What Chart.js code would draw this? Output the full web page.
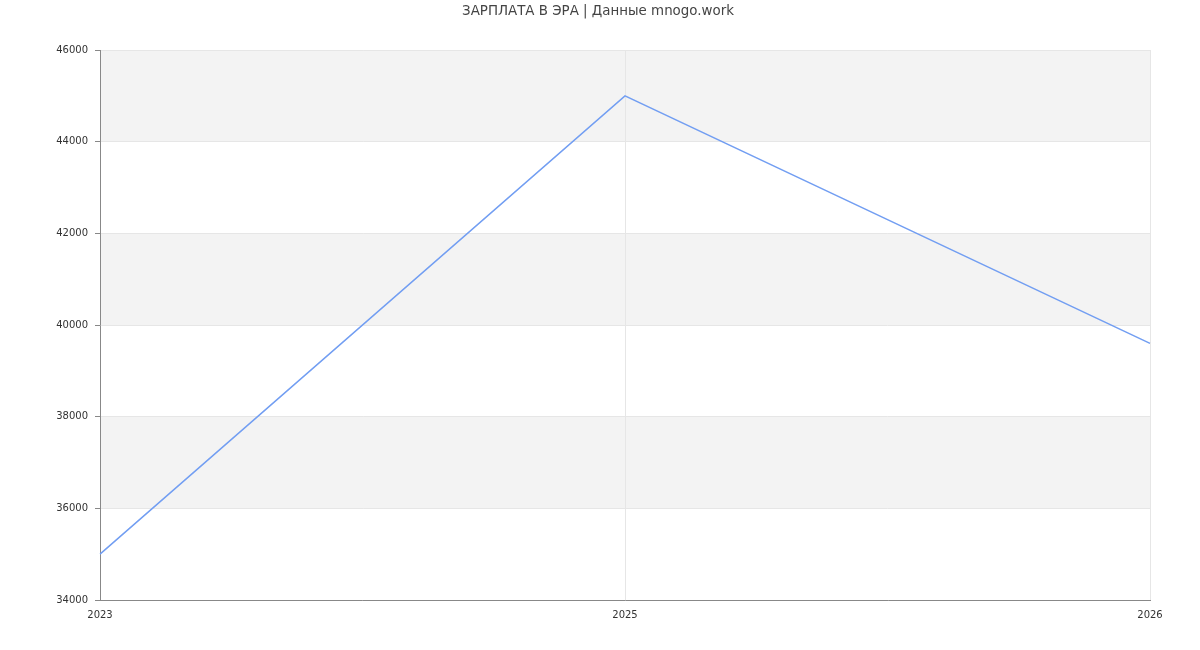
<!DOCTYPE html>
<html>
<head>
<meta charset="utf-8">
<script src="https://cdn.jsdelivr.net/npm/chart.js@4"></script>
<style>
  html, body { margin: 0; padding: 0; background: #fff; }
  #wrap { width: 1200px; height: 650px; }
</style>
</head>
<body>
<div id="wrap"><canvas id="salaryChart" width="1200" height="650"></canvas></div>
<script>
const titleText = "ЗАРПЛАТА В ЭРА | Данные mnogo.work";
const years = ["2023", "2025", "2026"];
const salary = [35000, 45000, 39600];
const yMin = 34000;
const yMax = 46000;
const yStep = 2000;

// grey bands between every other pair of y gridlines
const bandsPlugin = {
  id: 'bands',
  beforeDraw(chart) {
    const { ctx, chartArea, scales } = chart;
    const y = scales.y;
    const ticks = y.ticks;
    ctx.save();
    ctx.fillStyle = '#f3f3f3';
    for (let i = 1; i < ticks.length - 1; i += 2) {
      const top = y.getPixelForValue(ticks[i + 1].value);
      const bottom = y.getPixelForValue(ticks[i].value);
      ctx.fillRect(chartArea.left, top, chartArea.right - chartArea.left, bottom - top);
    }
    ctx.restore();
  }
};

// title drawn at the top, outside the padded plot area
const titlePlugin = {
  id: 'topTitle',
  afterDraw(chart) {
    const ctx = chart.ctx;
    ctx.save();
    ctx.font = '13.4px "DejaVu Sans"';
    ctx.fillStyle = '#444';
    ctx.textAlign = 'center';
    ctx.textBaseline = 'middle';
    ctx.fillText(titleText, 598, 12);
    ctx.restore();
  }
};

Chart.defaults.font.family = '"DejaVu Sans", sans-serif';
Chart.defaults.font.size = 10;
Chart.defaults.color = '#333';

new Chart(document.getElementById('salaryChart'), {
  type: 'line',
  data: {
    labels: years,
    datasets: [{
      data: salary,
      borderColor: '#729ef2',
      borderWidth: 1.5,
      pointRadius: 0,
      tension: 0,
      fill: false
    }]
  },
  options: {
    responsive: false,
    animation: false,
    layout: { padding: { top: 50, right: 50, left: 0, bottom: 0 } },
    plugins: {
      legend: { display: false },
      tooltip: { enabled: false }
    },
    scales: {
      x: {
        offset: false,
        afterFit(scale) { scale.height = 50; },
        grid: {
          color: '#e6e6e6',
          drawTicks: false
        },
        border: { color: '#888' },
        ticks: { padding: 9, maxRotation: 0 }
      },
      y: {
        min: yMin,
        max: yMax,
        afterFit(scale) { scale.width = 100; },
        grid: {
          color: '#e6e6e6',
          tickColor: '#888',
          tickLength: 5
        },
        border: { color: '#888' },
        ticks: {
          stepSize: yStep,
          padding: 7,
          callback: v => String(v)
        }
      }
    }
  },
  plugins: [bandsPlugin, titlePlugin]
});
</script>
</body>
</html>
